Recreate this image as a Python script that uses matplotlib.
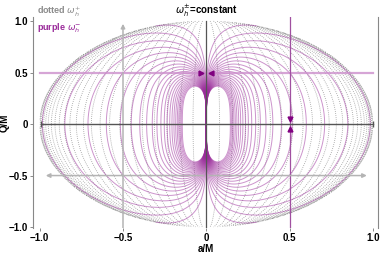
import numpy as np
import matplotlib
matplotlib.use("Agg")
import matplotlib.pyplot as plt

plt.rcParams['font.family'] = ['Liberation Sans', 'DejaVu Sans']
plt.rcParams['mathtext.fontset'] = 'dejavusans'

# contour levels (omega_h at outer / inner horizon)
levels_plus = [0.02, 0.04, 0.06, 0.08, 0.10, 0.12, 0.14, 0.16, 0.18, 0.20, 0.22,
               0.24, 0.26, 0.28, 0.30, 0.32, 0.34, 0.36, 0.38, 0.40, 0.42, 0.44,
               0.46, 0.48]
levels_minus = [0.3, 0.6, 0.9, 1.2, 1.5, 1.8, 2.1, 2.4, 2.7, 3.0, 3.3, 3.6,
                3.9, 4.2, 4.5, 4.8, 5.1, 5.4, 5.7, 6.0, 6.3, 6.6, 6.9]
xticks = [-1.0, -0.5, 0, 0.5, 1.0]
xtick_labels = ["\u22121.0", "\u22120.5", "0", "0.5", "1.0"]
yticks = [-1.0, -0.5, 0, 0.5, 1.0]
ytick_labels = ["\u22121.0", "\u22120.5", "0", "0.5", "1.0"]
q_path_fixed = [0.5, -0.5]
a_path_fixed = [-0.5, 0.5]

PURPLE = '#9a2a9a'
GRAY = '#7a7a7a'

a = np.linspace(-1, 1, 1400)
q = np.linspace(-1, 1, 1400)
A, Q = np.meshgrid(a, q)
disc = 1 - A**2 - Q**2
disc = np.where(disc >= 0, disc, np.nan)
rp = 1 + np.sqrt(disc)
rm = 1 - np.sqrt(disc)
w_plus = A / (rp**2 + A**2)
with np.errstate(divide='ignore', invalid='ignore'):
    w_minus = A / (rm**2 + A**2)

fig = plt.figure(figsize=(3.82, 2.56), dpi=100)
ax = fig.add_axes([0.0864, 0.109, 0.903, 0.825])

lp = sorted([-v for v in levels_plus] + levels_plus)
lm = sorted([-v for v in levels_minus] + levels_minus)
ax.contour(A, Q, w_plus, levels=lp, colors=GRAY, linewidths=0.6,
           linestyles=[(0, (1, 1.5))], alpha=0.75)
ax.contour(A, Q, w_minus, levels=lm, colors=PURPLE, linewidths=0.7,
           linestyles='solid', alpha=0.5)

# guide lines
ax.plot([-1.0, 1.0], [q_path_fixed[0]] * 2, color='#cc8fcc', lw=1.6, alpha=0.8)
ax.annotate('', xy=(-0.98, q_path_fixed[1]), xytext=(0, q_path_fixed[1]),
            arrowprops=dict(arrowstyle='-|>', color='#b4b4b4', lw=1.1,
                            mutation_scale=6))
ax.annotate('', xy=(0.98, q_path_fixed[1]), xytext=(0, q_path_fixed[1]),
            arrowprops=dict(arrowstyle='-|>', color='#b4b4b4', lw=1.1,
                            mutation_scale=6))
ax.plot([a_path_fixed[0]] * 2, [-1.01, 0.5], color='#b4b4b4', lw=1.1)
ax.annotate('', xy=(a_path_fixed[0], 1.0), xytext=(a_path_fixed[0], 0.5),
            arrowprops=dict(arrowstyle='-|>', color='#b4b4b4', lw=1.1,
                            mutation_scale=6))
ax.plot([a_path_fixed[1]] * 2, [-1.01, 1.04], color='#a050a0', lw=0.9)
ax.plot([-0.99, 1.0], [0, 0], color='#555555', lw=1.0)
ax.plot([0, 0], [-1.01, 1.0], color='#555555', lw=0.9)
ax.plot([-0.99, 1.0], [0, 0], ls='none', marker='|', ms=5, color='#555555')

ax.plot([-0.03], [q_path_fixed[0]], marker='>', ms=3.5, color='#800080', ls='none')
ax.plot([0.03], [q_path_fixed[0]], marker='<', ms=3.5, color='#800080', ls='none')
ax.plot([a_path_fixed[1]], [0.045], marker='v', ms=3.5, color='#800080', ls='none')
ax.plot([a_path_fixed[1]], [-0.045], marker='^', ms=3.5, color='#800080', ls='none')

ax.set_xlim(-1.04, 1.03)
ax.set_ylim(-1.01, 1.04)
ax.set_xticks(xticks)
ax.set_xticklabels(xtick_labels, fontweight='bold', fontsize=7)
ax.set_yticks(yticks)
ax.set_yticklabels(ytick_labels, fontweight='bold', fontsize=7)
ax.tick_params(length=2, width=0.6, colors='#777777', labelcolor='black', pad=1.5)
for s in ['top', 'bottom']:
    ax.spines[s].set_visible(False)
for s in ['left', 'right']:
    ax.spines[s].set_color('#888888')
    ax.spines[s].set_linewidth(0.8)

ax.set_xlabel('a/M', fontweight='bold', fontsize=7, labelpad=1)
ax.set_ylabel('Q/M', fontweight='bold', fontsize=7)
ax.yaxis.set_label_coords(-0.068, 0.5)
fig.text(0.54, 0.99, r'$\omega_h^{\pm}$=constant', ha='center', va='top',
         fontsize=7, fontweight='bold')
fig.text(0.098, 0.955, r'dotted $\omega_h^{+}$', ha='left', va='center',
         fontsize=6.5, fontweight='bold', color='#8c8c8c')
fig.text(0.098, 0.89, r'purple $\omega_h^{-}$', ha='left', va='center',
         fontsize=6.5, fontweight='bold', color='#9a2a9a')

fig.savefig('out.png', dpi=100)
